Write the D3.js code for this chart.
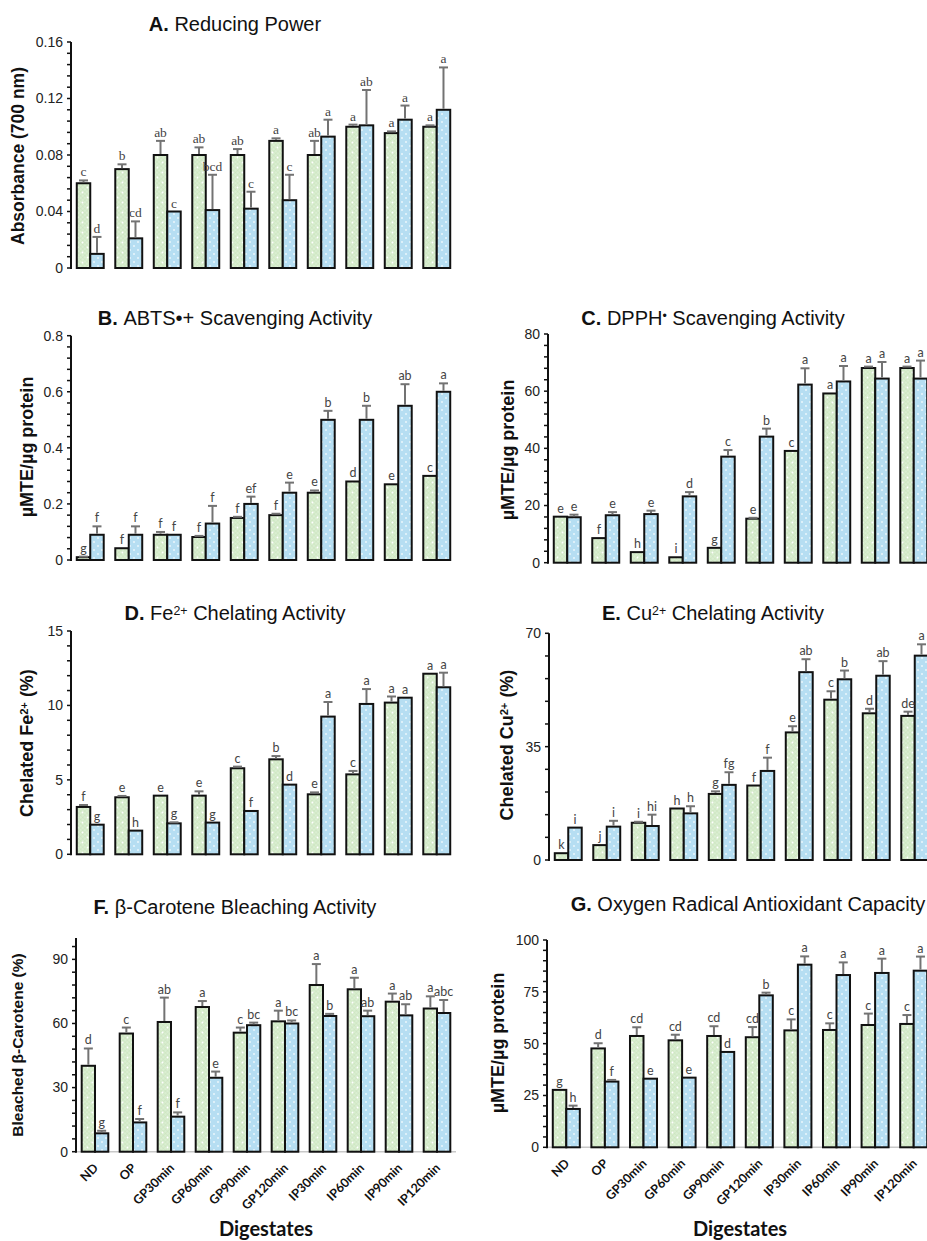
<!DOCTYPE html>
<html>
<head>
<meta charset="utf-8">
<script src="https://cdn.jsdelivr.net/npm/d3@7"></script>
<style>
  body { margin: 0; background: #fff; }
</style>
</head>
<body>
<div id="container"></div>
<script>
const WIDTH = 927;
const HEIGHT = 1241;

const digestates = ['ND', 'OP', 'GP30min', 'GP60min', 'GP90min', 'GP120min',
                    'IP30min', 'IP60min', 'IP90min', 'IP120min'];

// A. Reducing power
const powerGreen = [0.060, 0.070, 0.080, 0.080, 0.080, 0.090, 0.080, 0.100, 0.0955, 0.100];
const powerGreenErr = [0.002, 0.0034, 0.010, 0.0054, 0.0042, 0.0018, 0.010, 0.0015, 0.0012, 0.001];
const powerBlue = [0.010, 0.021, 0.040, 0.041, 0.042, 0.048, 0.093, 0.101, 0.105, 0.112];
const powerBlueErr = [0.012, 0.012, 0, 0.025, 0.012, 0.018, 0.012, 0.025, 0.010, 0.030];
const powerGreenLetters = ['c', 'b', 'ab', 'ab', 'ab', 'a', 'ab', 'a', 'a', 'a'];
const powerBlueLetters = ['d', 'cd', 'c', 'bcd', 'c', 'c', 'a', 'ab', 'a', 'a'];

// B. ABTS
const abtsGreen = [0.010, 0.042, 0.090, 0.082, 0.150, 0.160, 0.240, 0.280, 0.270, 0.300];
const abtsGreenErr = [0.002, 0, 0.010, 0.004, 0.004, 0.005, 0.008, 0, 0, 0];
const abtsBlue = [0.090, 0.090, 0.090, 0.130, 0.200, 0.240, 0.500, 0.500, 0.550, 0.600];
const abtsBlueErr = [0.030, 0.030, 0, 0.063, 0.026, 0.036, 0.032, 0.050, 0.077, 0.030];
const abtsGreenLetters = ['g', 'f', 'f', 'f', 'f', 'f', 'e', 'd', 'e', 'c'];
const abtsBlueLetters = ['f', 'f', 'f', 'f', 'ef', 'e', 'b', 'b', 'ab', 'a'];

// C. DPPH
const dpphGreen = [16.1, 8.6, 3.7, 1.9, 5.2, 15.4, 39.1, 59.2, 68.1, 68.1];
const dpphGreenErr = [0, 0, 0, 0, 0, 0.3, 0, 0, 0.5, 0.5];
const dpphBlue = [15.9, 16.6, 17.0, 23.2, 37.1, 44.1, 62.3, 63.4, 64.4, 64.4];
const dpphBlueErr = [0.9, 1.1, 1.2, 1.5, 2.3, 2.8, 5.7, 5.4, 5.8, 6.3];
const dpphGreenLetters = ['e', 'f', 'h', 'i', 'g', 'e', 'c', 'a', 'a', 'a'];
const dpphBlueLetters = ['e', 'e', 'e', 'd', 'c', 'b', 'a', 'a', 'a', 'a'];

// D. Fe2+ chelating
const feGreen = [3.18, 3.83, 3.94, 3.94, 5.78, 6.38, 4.03, 5.37, 10.19, 12.13];
const feGreenErr = [0.13, 0.09, 0, 0.29, 0.11, 0.22, 0.13, 0.23, 0.41, 0];
const feBlue = [1.99, 1.59, 2.08, 2.13, 2.91, 4.68, 9.25, 10.10, 10.52, 11.22];
const feBlueErr = [0, 0, 0.07, 0, 0, 0, 0.98, 1.0, 0, 0.98];
const feGreenLetters = ['f', 'e', 'e', 'e', 'c', 'b', 'e', 'c', 'a', 'a'];
const feBlueLetters = ['g', 'h', 'g', 'g', 'f', 'd', 'a', 'a', 'a', 'a'];

// E. Cu2+ chelating
const cuGreen = [2.1, 4.6, 11.5, 15.9, 20.4, 23.0, 39.4, 49.5, 45.3, 44.5];
const cuGreenErr = [0, 0, 0.3, 0, 0.8, 0, 1.9, 2.6, 1.4, 1.3];
const cuBlue = [10.0, 10.3, 10.5, 14.4, 23.2, 27.5, 58.0, 55.8, 56.9, 63.1];
const cuBlueErr = [0, 1.8, 3.5, 2.2, 3.9, 4.1, 4.0, 2.7, 4.5, 3.5];
const cuGreenLetters = ['k', 'j', 'i', 'h', 'g', 'f', 'e', 'c', 'd', 'de'];
const cuBlueLetters = ['i', 'i', 'hi', 'h', 'fg', 'f', 'ab', 'b', 'ab', 'a'];

// F. beta-carotene bleaching
const caroGreen = [40.2, 55.3, 60.7, 67.7, 55.7, 61.0, 78.0, 76.0, 70.2, 67.0];
const caroGreenErr = [8.1, 2.8, 11.4, 2.8, 2.4, 5.0, 9.8, 5.4, 3.8, 5.7];
const caroBlue = [8.6, 13.7, 16.4, 34.6, 59.2, 60.0, 63.5, 63.4, 63.8, 64.9];
const caroBlueErr = [1.2, 1.6, 2.0, 2.9, 1.2, 1.4, 1.0, 2.6, 5.2, 6.1];
const caroGreenLetters = ['d', 'c', 'ab', 'a', 'c', 'a', 'a', 'a', 'a', 'a'];
const caroBlueLetters = ['g', 'f', 'f', 'e', 'bc', 'bc', 'b', 'ab', 'ab', 'abc'];

// G. ORAC
const oracGreen = [27.7, 47.7, 53.7, 51.6, 53.7, 53.1, 56.4, 56.6, 59.0, 59.5];
const oracGreenErr = [0, 2.5, 4.2, 2.7, 4.7, 4.9, 5.3, 3.2, 5.5, 4.3];
const oracBlue = [18.5, 31.7, 33.1, 33.6, 46.0, 73.3, 88.1, 83.1, 84.1, 85.2];
const oracBlueErr = [1.6, 0.8, 0, 0, 0, 1.3, 4.0, 6.1, 6.9, 6.8];
const oracGreenLetters = ['g', 'd', 'cd', 'cd', 'cd', 'cd', 'c', 'c', 'c', 'c'];
const oracBlueLetters = ['h', 'f', 'e', 'e', 'd', 'b', 'a', 'a', 'a', 'a'];

const ARIAL = '"Liberation Sans", Arial, sans-serif';
const SERIF = '"Liberation Serif", "Times New Roman", serif';
const CALIBRI = 'Lato, "Open Sans", sans-serif';

const PANELS = [
    { key: 'A', title: [['Reducing Power']], tx: 235, ty: 31,
      ylabel: [['Absorbance (700 nm)']], lx: 18, ly: 156, lsize: 17.5,
      x0: 71, x1: 456, y0: 268, y1: 42, max: 0.16, major: 0.04, minor: 0.008, dec: 2,
      green: powerGreen, greenErr: powerGreenErr, blue: powerBlue, blueErr: powerBlueErr,
      gl: powerGreenLetters, bl: powerBlueLetters, letterFont: SERIF, letterSize: 13.5 },
    { key: 'B', title: [['ABTS•+ Scavenging Activity']], tx: 235, ty: 325,
      ylabel: [['µMTE/µg protein']], lx: 27, ly: 447, lsize: 18,
      x0: 71, x1: 456, y0: 560, y1: 335.7, max: 0.8, major: 0.2, minor: 0.04, dec: 1,
      green: abtsGreen, greenErr: abtsGreenErr, blue: abtsBlue, blueErr: abtsBlueErr,
      gl: abtsGreenLetters, bl: abtsBlueLetters },
    { key: 'C', title: [['DPPH'], ['•', 'sup'], [' Scavenging Activity']], tx: 713, ty: 325,
      ylabel: [['µMTE/µg protein']], lx: 508, ly: 450, lsize: 18,
      x0: 548, x1: 933, y0: 562.7, y1: 334, max: 80, major: 20, minor: 4, dec: 0,
      green: dpphGreen, greenErr: dpphGreenErr, blue: dpphBlue, blueErr: dpphBlueErr,
      gl: dpphGreenLetters, bl: dpphBlueLetters },
    { key: 'D', title: [['Fe'], ['2+', 'sup'], [' Chelating Activity']], tx: 235, ty: 620,
      ylabel: [['Chelated Fe'], ['2+', 'sup'], [' (%)']], lx: 27, ly: 743, lsize: 18,
      x0: 71, x1: 456, y0: 854.3, y1: 631, max: 15, major: 5, minor: 1, dec: 0,
      green: feGreen, greenErr: feGreenErr, blue: feBlue, blueErr: feBlueErr,
      gl: feGreenLetters, bl: feBlueLetters },
    { key: 'E', title: [['Cu'], ['2+', 'sup'], [' Chelating Activity']], tx: 713, ty: 620,
      ylabel: [['Chelated Cu'], ['2+', 'sup'], [' (%)']], lx: 507, ly: 745, lsize: 18,
      x0: 549, x1: 934, y0: 860, y1: 633.3, max: 70, major: 35, minor: 7, dec: 0,
      green: cuGreen, greenErr: cuGreenErr, blue: cuBlue, blueErr: cuBlueErr,
      gl: cuGreenLetters, bl: cuBlueLetters },
    { key: 'F', title: [['β-Carotene Bleaching Activity']], tx: 235, ty: 914,
      ylabel: [['Bleached β-Carotene (%)']], lx: 18, ly: 1045, lsize: 15.5,
      x0: 76, x1: 456, y0: 1151.7, y1: 938, max: 100, major: 30, minor: 6, dec: 0,
      tickMax: 90,
      green: caroGreen, greenErr: caroGreenErr, blue: caroBlue, blueErr: caroBlueErr,
      gl: caroGreenLetters, bl: caroBlueLetters, xlabels: true, xtitleX: 266 },
    { key: 'G', title: [['Oxygen Radical Antioxidant Capacity']], tx: 748, ty: 911,
      ylabel: [['µMTE/µg protein']], lx: 498, ly: 1043, lsize: 18,
      x0: 547, x1: 933, y0: 1147.3, y1: 940, max: 100, major: 25, minor: 5, dec: 0,
      green: oracGreen, greenErr: oracGreenErr, blue: oracBlue, blueErr: oracBlueErr,
      gl: oracGreenLetters, bl: oracBlueLetters, xlabels: true, xtitleX: 740 }
];

const svg = d3.select('#container')
              .append('svg')
                .attr('width', WIDTH)
                .attr('height', HEIGHT)
                .style('display', 'block');

// fill textures
const defs = svg.append('defs');

const hatch = defs.append('pattern')
                  .attr('id', 'greenHatch')
                  .attr('patternUnits', 'userSpaceOnUse')
                  .attr('width', 3)
                  .attr('height', 3)
                  .attr('patternTransform', 'rotate(45)');
hatch.append('rect').attr('width', 3).attr('height', 3).attr('fill', '#daeed2');
hatch.append('path').attr('d', 'M0,0H3M0,0V3')
     .attr('stroke', '#c6e2b8').attr('stroke-width', 0.8);

const greenDots = defs.append('pattern')
                      .attr('id', 'greenDots')
                      .attr('patternUnits', 'userSpaceOnUse')
                      .attr('width', 10)
                      .attr('height', 10);
greenDots.append('circle').attr('cx', 2.5).attr('cy', 2.5).attr('r', 0.9).attr('fill', '#fff');
greenDots.append('circle').attr('cx', 7.5).attr('cy', 7.5).attr('r', 0.9).attr('fill', '#fff');

const blueDots = defs.append('pattern')
                     .attr('id', 'blueDots')
                     .attr('patternUnits', 'userSpaceOnUse')
                     .attr('width', 8)
                     .attr('height', 8);
blueDots.append('rect').attr('width', 8).attr('height', 8).attr('fill', '#b6def2');
blueDots.append('circle').attr('cx', 2).attr('cy', 2).attr('r', 1).attr('fill', '#eaf6fc');
blueDots.append('circle').attr('cx', 6).attr('cy', 6).attr('r', 1).attr('fill', '#eaf6fc');

const addParts = (text, parts, size) => {
    parts.forEach(p => {
        const t = text.append('tspan').text(p[0]);
        if (p[1] === 'sup') {
            t.attr('font-size', size * 0.62).attr('baseline-shift', '45%');
        }
    });
};

const drawPanel = cfg => {
    const g = svg.append('g');

    const yscale = d3.scaleLinear()
                     .domain([0, cfg.max])
                     .range([cfg.y0, cfg.y1]);

    const xscale = d3.scaleBand()
                     .domain(digestates)
                     .range([cfg.x0, cfg.x1])
                     .paddingInner(0.3)
                     .paddingOuter(0.15);

    const half = xscale.bandwidth() / 2;

    // baseline (only visible in bottom panels)
    if (cfg.xlabels) {
        g.append('line')
           .attr('x1', cfg.x0).attr('x2', cfg.x1)
           .attr('y1', cfg.y0).attr('y2', cfg.y0)
           .attr('stroke', '#c8c8c8')
           .attr('stroke-width', 1.5);
    }

    const series = [
        { vals: cfg.green, errs: cfg.greenErr, letters: cfg.gl, dx: 0, fills: ['url(#greenHatch)', 'url(#greenDots)'] },
        { vals: cfg.blue, errs: cfg.blueErr, letters: cfg.bl, dx: half, fills: ['url(#blueDots)'] }
    ];

    series.forEach(s => {
        const bars = g.append('g')
                      .selectAll('g')
                      .data(digestates)
                      .enter()
                      .append('g');

        s.fills.forEach(f => {
            bars.append('rect')
                  .attr('x', d => xscale(d) + s.dx)
                  .attr('y', (d, i) => yscale(s.vals[i]))
                  .attr('width', half)
                  .attr('height', (d, i) => yscale(0) - yscale(s.vals[i]))
                  .attr('fill', f);
        });
        bars.append('rect')
              .attr('x', d => xscale(d) + s.dx)
              .attr('y', (d, i) => yscale(s.vals[i]))
              .attr('width', half)
              .attr('height', (d, i) => yscale(0) - yscale(s.vals[i]))
              .attr('fill', 'none')
              .attr('stroke', '#111')
              .attr('stroke-width', 2);
    });

    // error bars + letters
    series.forEach(s => {
        const cx = d => xscale(d) + s.dx + half / 2;
        const top = d => { const i = digestates.indexOf(d); return yscale(s.vals[i] + s.errs[i]); };
        const err = g.append('g')
                     .selectAll('g')
                     .data(digestates.filter((d, i) => s.errs[i] > 0))
                     .enter()
                     .append('g')
                       .attr('stroke', '#737373')
                       .attr('stroke-width', 2);
        err.append('line')
             .attr('x1', cx).attr('x2', cx)
             .attr('y1', d => yscale(s.vals[digestates.indexOf(d)]) - 1)
             .attr('y2', top);
        err.append('line')
             .attr('x1', d => cx(d) - 4.5).attr('x2', d => cx(d) + 4.5)
             .attr('y1', top)
             .attr('y2', top);

        g.append('g')
           .selectAll('text')
           .data(digestates)
           .enter()
           .append('text')
             .attr('x', cx)
             .attr('y', (d, i) => yscale(s.vals[i] + s.errs[i]) - 4)
             .attr('text-anchor', 'middle')
             .attr('font-family', cfg.letterFont || CALIBRI)
             .attr('font-size', cfg.letterSize || 12.5)
             .attr('fill', '#444')
             .text((d, i) => s.letters[i]);
    });

    // y axis
    const minorTicks = d3.range(0, cfg.max + 1e-9, cfg.minor);
    const majorTicks = d3.range(0, (cfg.tickMax || cfg.max) + 1e-9, cfg.major);
    const fmt = v => v === 0 ? '0' : v.toFixed(cfg.dec);

    const axis = g.append('g');
    axis.append('line')
          .attr('x1', cfg.x0).attr('x2', cfg.x0)
          .attr('y1', yscale(0) + 1).attr('y2', yscale(cfg.max))
          .attr('stroke', '#111')
          .attr('stroke-width', 2);
    axis.selectAll('.tick')
        .data(minorTicks)
        .enter()
        .append('line')
          .attr('x1', cfg.x0 - 4).attr('x2', cfg.x0)
          .attr('y1', d => yscale(d)).attr('y2', d => yscale(d))
          .attr('stroke', '#111')
          .attr('stroke-width', 1.5);
    axis.selectAll('.lab')
        .data(majorTicks)
        .enter()
        .append('text')
          .attr('x', cfg.x0 - 8)
          .attr('y', d => yscale(d))
          .attr('dy', '0.35em')
          .attr('text-anchor', 'end')
          .attr('font-family', ARIAL)
          .attr('font-size', 14)
          .attr('fill', '#222')
          .text(fmt);

    // title
    const title = g.append('text')
                   .attr('x', cfg.tx)
                   .attr('y', cfg.ty)
                   .attr('text-anchor', 'middle')
                   .attr('font-family', ARIAL)
                   .attr('font-size', 20)
                   .attr('fill', '#111');
    title.append('tspan').attr('font-weight', 'bold').text(cfg.key + '. ');
    addParts(title, cfg.title, 20);

    // y label
    const ylab = g.append('text')
                  .attr('transform', `translate(${cfg.lx}, ${cfg.ly}) rotate(-90)`)
                  .attr('text-anchor', 'middle')
                  .attr('dy', '0.35em')
                  .attr('font-family', ARIAL)
                  .attr('font-weight', 'bold')
                  .attr('font-size', cfg.lsize)
                  .attr('fill', '#111');
    addParts(ylab, cfg.ylabel, cfg.lsize);

    // x labels
    if (cfg.xlabels) {
        g.append('g')
           .selectAll('text')
           .data(digestates)
           .enter()
           .append('text')
             .attr('transform', d => `translate(${xscale(d) + half + 4}, ${cfg.y0 + 17}) rotate(-45)`)
             .attr('text-anchor', 'end')
             .attr('font-family', CALIBRI)
             .attr('font-weight', 'bold')
             .attr('font-size', 12.5)
             .attr('fill', '#111')
             .text(d => d);

        g.append('text')
           .attr('x', cfg.xtitleX)
           .attr('y', 1236)
           .attr('text-anchor', 'middle')
           .attr('font-family', CALIBRI)
           .attr('font-weight', 'bold')
           .attr('font-size', 20)
           .attr('fill', '#111')
           .text('Digestates');
    }
};

PANELS.forEach(drawPanel);
</script>
</body>
</html>
